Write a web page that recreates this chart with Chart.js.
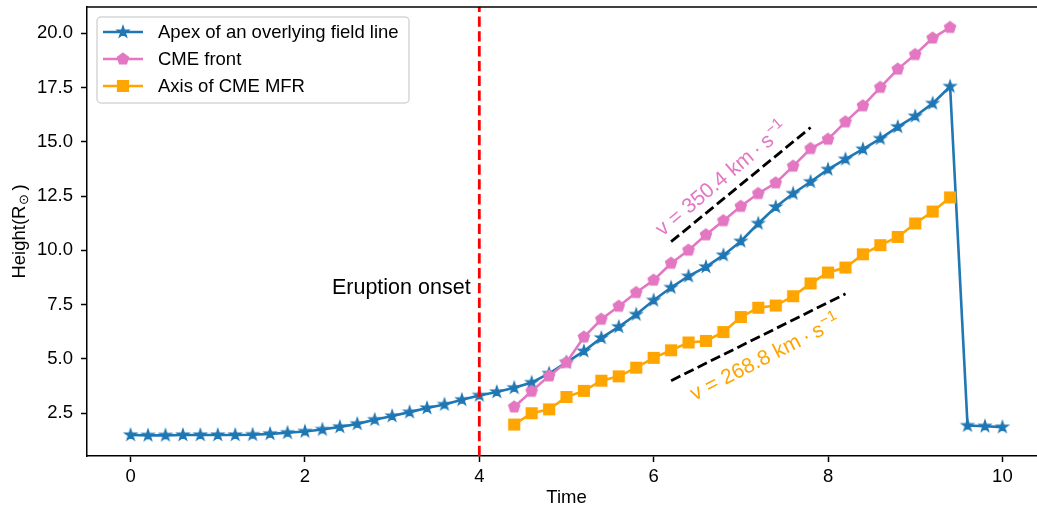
<!DOCTYPE html>
<html>
<head>
<meta charset="utf-8">
<script src="https://cdn.jsdelivr.net/npm/chart.js@4.4.1/dist/chart.umd.min.js"></script>
<style>
  html, body { margin: 0; padding: 0; background: #fff; overflow: hidden; }
  #wrap { width: 1052px; height: 512px; }
</style>
</head>
<body>
<div id="wrap"><canvas id="c" width="1052" height="512"></canvas></div>
<script>
// ---- data ----
var timeApex = [0, 0.2, 0.4, 0.6, 0.8, 1.0, 1.2, 1.4, 1.6, 1.8, 2.0, 2.2, 2.4, 2.6, 2.8, 3.0, 3.2, 3.4, 3.6, 3.8,
                4.0, 4.2, 4.4, 4.6, 4.8, 5.0, 5.2, 5.4, 5.6, 5.8, 6.0, 6.2, 6.4, 6.6, 6.8, 7.0, 7.2, 7.4, 7.6, 7.8,
                8.0, 8.2, 8.4, 8.6, 8.8, 9.0, 9.2, 9.4, 9.6, 9.8, 10.0];
var heightApex = [1.50, 1.48, 1.48, 1.50, 1.50, 1.50, 1.50, 1.51, 1.55, 1.60, 1.66, 1.75, 1.87, 2.01, 2.20, 2.37, 2.55, 2.74, 2.90, 3.12,
                  3.32, 3.48, 3.67, 3.91, 4.33, 4.84, 5.36, 5.97, 6.48, 7.05, 7.70, 8.29, 8.81, 9.24, 9.78, 10.42, 11.24, 12.00, 12.62, 13.16,
                  13.73, 14.20, 14.66, 15.15, 15.69, 16.18, 16.77, 17.55, 1.93, 1.90, 1.86];

var timeCme = [4.4, 4.6, 4.8, 5.0, 5.2, 5.4, 5.6, 5.8, 6.0, 6.2, 6.4, 6.6, 6.8, 7.0, 7.2, 7.4, 7.6, 7.8,
               8.0, 8.2, 8.4, 8.6, 8.8, 9.0, 9.2, 9.4];
var heightFront = [2.79, 3.51, 4.22, 4.84, 6.01, 6.83, 7.43, 8.06, 8.63, 9.41, 10.01, 10.72, 11.37, 12.03, 12.62, 13.11, 13.88, 14.69,
                   15.12, 15.92, 16.66, 17.51, 18.35, 19.02, 19.78, 20.27];
var heightMfr = [1.98, 2.50, 2.68, 3.25, 3.53, 4.00, 4.20, 4.60, 5.05, 5.40, 5.76, 5.83, 6.24, 6.93, 7.36, 7.46, 7.89, 8.48,
                 8.98, 9.21, 9.82, 10.24, 10.62, 11.24, 11.79, 12.44];

var fitFrontX = [6.2, 7.8];
var fitFrontY = [10.4, 15.66];
var fitMfrX = [6.2, 8.2];
var fitMfrY = [4.0, 8.0];

var onsetTime = 4;
var xTickValues = [0, 2, 4, 6, 8, 10];
var yTickValues = [2.5, 5.0, 7.5, 10.0, 12.5, 15.0, 17.5, 20.0];
var seriesLabels = ["Apex of an overlying field line", "CME front", "Axis of CME MFR"];

var X_MIN = -0.5, X_MAX = 10.5, Y_MIN = 0.53, Y_MAX = 21.21;

var BLUE = "#1f77b4", PINK = "#e377c2", ORANGE = "#ffa500";
var FONT = '"Liberation Sans", Arial, Helvetica, sans-serif';

Chart.defaults.font.family = FONT;
Chart.defaults.font.size = 18.5;
Chart.defaults.color = "#000";

function pts(xs, ys) {
  var out = [];
  for (var i = 0; i < xs.length; i++) out.push({ x: xs[i], y: ys[i] });
  return out;
}

// matplotlib-like markers drawn once into small canvases
function makeMarker(kind, color) {
  var c = document.createElement("canvas");
  c.width = 18; c.height = 18;
  var g = c.getContext("2d");
  var cx = 9, cy = 9;
  g.fillStyle = color; g.strokeStyle = color; g.lineWidth = 1.4; g.lineJoin = "miter";
  g.beginPath();
  if (kind === "star") {
    for (var i = 0; i < 10; i++) {
      var r = (i % 2 === 0) ? 5.9 : 2.3;
      var a = -Math.PI / 2 + i * Math.PI / 5;
      var px = cx + r * Math.cos(a), py = cy + r * Math.sin(a);
      if (i === 0) g.moveTo(px, py); else g.lineTo(px, py);
    }
  } else if (kind === "pentagon") {
    for (var j = 0; j < 5; j++) {
      var b = -Math.PI / 2 + j * 2 * Math.PI / 5;
      var qx = cx + 5.8 * Math.cos(b), qy = cy + 5.8 * Math.sin(b);
      if (j === 0) g.moveTo(qx, qy); else g.lineTo(qx, qy);
    }
  } else {
    g.rect(cx - 5.4, cy - 5.4, 10.8, 10.8);
  }
  g.closePath();
  g.fill();
  g.stroke();
  return c;
}

var starImg = makeMarker("star", BLUE);
var pentImg = makeMarker("pentagon", PINK);
var squareImg = makeMarker("square", ORANGE);
var markerImgs = [starImg, pentImg, squareImg];
var seriesColors = [BLUE, PINK, ORANGE];

function drawVelocity(ctx, x, y, angle, color, main, sup) {
  ctx.save();
  ctx.translate(x, y);
  ctx.rotate(angle);
  ctx.fillStyle = color;
  ctx.textBaseline = "alphabetic";
  ctx.textAlign = "left";
  ctx.font = "21px " + FONT;
  var wm = ctx.measureText(main).width;
  ctx.font = "15px " + FONT;
  var ws = ctx.measureText(sup).width;
  var start = -(wm + ws) / 2;
  ctx.font = "21px " + FONT;
  ctx.fillText(main, start, 7);
  ctx.font = "15px " + FONT;
  ctx.fillText(sup, start + wm + 1, -1.5);
  ctx.restore();
}

var extras = {
  id: "extras",
  afterDraw: function (chart) {
    var ctx = chart.ctx;
    var area = chart.chartArea;
    var xs = chart.scales.x, ys = chart.scales.y;

    // top spine
    ctx.save();
    ctx.strokeStyle = "#000";
    ctx.lineWidth = 1.5;
    ctx.beginPath();
    ctx.moveTo(area.left - 0.75, area.top);
    ctx.lineTo(area.right + 0.75, area.top);
    ctx.stroke();
    ctx.restore();

    // "Eruption onset"
    ctx.save();
    ctx.font = "21.5px " + FONT;
    ctx.fillStyle = "#000";
    ctx.textAlign = "right";
    ctx.textBaseline = "alphabetic";
    ctx.fillText("Eruption onset", xs.getPixelForValue(3.9), ys.getPixelForValue(8.0));
    ctx.restore();

    // velocity labels
    drawVelocity(ctx, xs.getPixelForValue(6.77), ys.getPixelForValue(13.3), -40 * Math.PI / 180,
                 PINK, "v = 350.4 km\u2009\u00b7\u2009s", "\u22121");
    drawVelocity(ctx, xs.getPixelForValue(7.27), ys.getPixelForValue(5.08), -27 * Math.PI / 180,
                 ORANGE, "v = 268.8 km\u2009\u00b7\u2009s", "\u22121");

    // y axis title with subscript sun symbol
    ctx.save();
    ctx.translate(25, (area.top + area.bottom) / 2);
    ctx.rotate(-Math.PI / 2);
    ctx.fillStyle = "#000";
    ctx.textBaseline = "alphabetic";
    ctx.textAlign = "left";
    ctx.font = "18.5px " + FONT;
    var w1 = ctx.measureText("Height(R").width;
    var w3 = ctx.measureText(")").width;
    ctx.font = "13px " + FONT;
    var w2 = ctx.measureText("\u2299").width + 4;
    var s = -(w1 + w2 + w3) / 2;
    ctx.font = "18.5px " + FONT;
    ctx.fillText("Height(R", s, 0);
    ctx.fillText(")", s + w1 + w2, 0);
    ctx.font = "13px " + FONT;
    ctx.fillText("\u2299", s + w1 + 1, 3);
    ctx.restore();

    // legend
    ctx.save();
    var lx = 97, ly = 17, lw = 312, lh = 86;
    ctx.beginPath();
    ctx.roundRect(lx, ly, lw, lh, 4);
    ctx.fillStyle = "rgba(255,255,255,0.8)";
    ctx.fill();
    ctx.strokeStyle = "rgba(204,204,204,0.8)";
    ctx.lineWidth = 1.5;
    ctx.stroke();
    ctx.font = "18.5px " + FONT;
    ctx.textBaseline = "middle";
    ctx.textAlign = "left";
    for (var i = 0; i < seriesLabels.length; i++) {
      var ry = 32 + i * 27;
      ctx.strokeStyle = seriesColors[i];
      ctx.lineWidth = 2.6;
      ctx.beginPath();
      ctx.moveTo(103, ry);
      ctx.lineTo(143, ry);
      ctx.stroke();
      ctx.drawImage(markerImgs[i], 123 - 9, ry - 9);
      ctx.fillStyle = "#000";
      ctx.fillText(seriesLabels[i], 158, ry + 1);
    }
    ctx.restore();
  }
};

var lineBase = { borderWidth: 2.6, tension: 0, pointBorderWidth: 0, pointRadius: 6, fill: false };

new Chart(document.getElementById("c"), {
  type: "line",
  data: {
    datasets: [
      { label: "onset", data: [{ x: onsetTime, y: Y_MIN }, { x: onsetTime, y: Y_MAX }], borderColor: "#ff0000",
        borderWidth: 2.8, borderDash: [10.3, 4.5], pointRadius: 0, order: 0 },
      { label: "fit front", data: pts(fitFrontX, fitFrontY), borderColor: "#000", borderWidth: 2.8,
        borderDash: [10.3, 4.5], pointRadius: 0, order: 0 },
      { label: "fit mfr", data: pts(fitMfrX, fitMfrY), borderColor: "#000", borderWidth: 2.8,
        borderDash: [10.3, 4.5], pointRadius: 0, order: 0 },
      Object.assign({ label: seriesLabels[2], data: pts(timeCme, heightMfr), borderColor: ORANGE,
        backgroundColor: ORANGE, pointStyle: squareImg, order: 1 }, lineBase),
      Object.assign({ label: seriesLabels[1], data: pts(timeCme, heightFront), borderColor: PINK,
        backgroundColor: PINK, pointStyle: pentImg, order: 2 }, lineBase),
      Object.assign({ label: seriesLabels[0], data: pts(timeApex, heightApex), borderColor: BLUE,
        backgroundColor: BLUE, pointStyle: starImg, order: 3 }, lineBase)
    ]
  },
  options: {
    responsive: false,
    animation: false,
    events: [],
    layout: { padding: { top: 7, right: 5, left: 0, bottom: 0 } },
    plugins: { legend: { display: false }, tooltip: { enabled: false } },
    scales: {
      x: {
        type: "linear", min: X_MIN, max: X_MAX,
        afterBuildTicks: function (scale) {
          scale.ticks = xTickValues.map(function (v) { return { value: v }; });
        },
        afterFit: function (scale) {
          scale.height = 56;
          scale.paddingLeft = 0; scale.paddingRight = 0;
        },
        ticks: { padding: 4, maxRotation: 0, callback: function (v) { return String(v); } },
        grid: { display: true, drawOnChartArea: false, drawTicks: true, tickLength: 6, tickWidth: 1.5, tickColor: "#000" },
        border: { display: true, color: "#000", width: 1.5 },
        title: { display: true, text: "Time", padding: { top: 0, bottom: 3 } }
      },
      y: {
        type: "linear", min: Y_MIN, max: Y_MAX,
        afterBuildTicks: function (scale) {
          scale.ticks = yTickValues.map(function (v) { return { value: v }; });
        },
        afterFit: function (scale) {
          scale.width = 87;
          scale.paddingTop = 0; scale.paddingBottom = 0;
        },
        ticks: { padding: 8, callback: function (v) { return v.toFixed(1); } },
        grid: { display: true, drawOnChartArea: false, drawTicks: true, tickLength: 6, tickWidth: 1.5, tickColor: "#000" },
        border: { display: true, color: "#000", width: 1.5 }
      }
    }
  },
  plugins: [extras]
});
</script>
</body>
</html>
